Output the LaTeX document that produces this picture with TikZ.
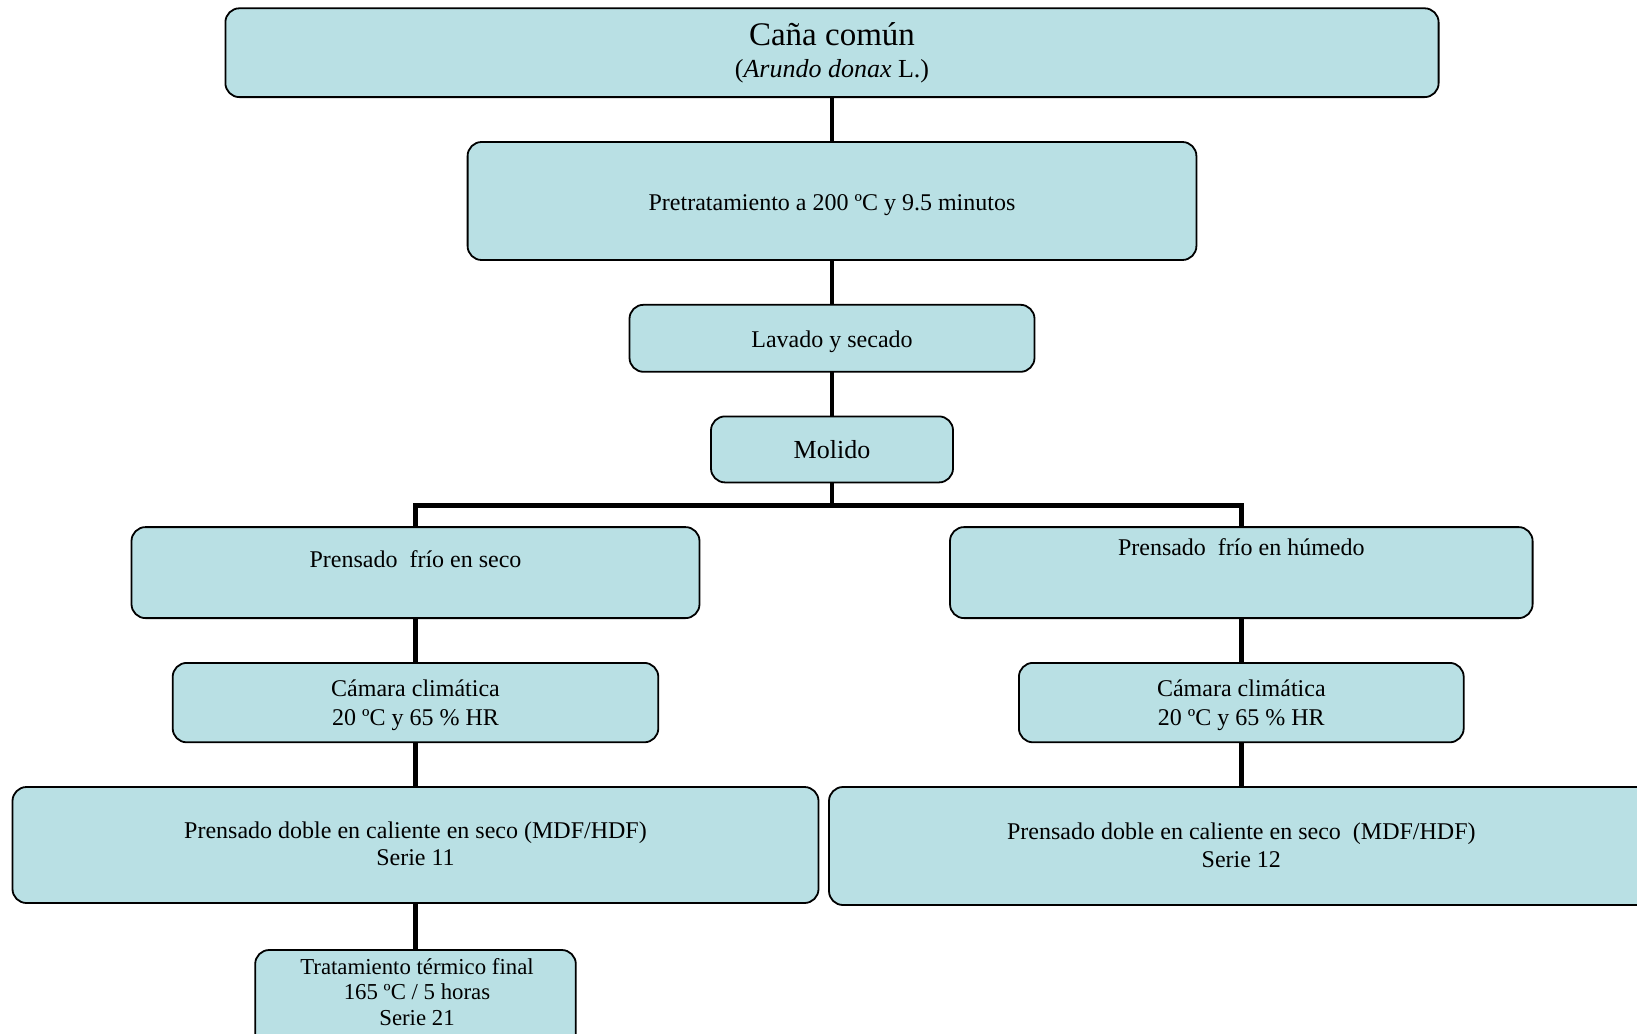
\documentclass[tikz,border=0pt]{standalone}
\usepackage{fontspec}
\setmainfont{Liberation Serif}
\definecolor{boxfill}{RGB}{185,224,228}
\begin{document}
\begin{tikzpicture}[x=0.5pt,y=-0.5pt,
  box/.style={draw=black, line width=0.9pt, fill=boxfill, rounded corners=7pt, inner sep=0pt, outer sep=0pt},
  txt/.style={inner sep=0pt, align=center, font=\fontsize{12}{14}\selectfont},
  conn/.style={draw=black, line width=2.2pt}]
\useasboundingbox (0,0) rectangle (1637,1033);
\clip (0,0) rectangle (1637,1033);
% coordinates for the branching bus
\coordinate (busM) at (832,505.3);
\coordinate (busL) at (415.5,505.3);
\coordinate (busR) at (1241.3,505.3);
% connectors (drawn below boxes)
\draw[conn] (832,97) -- (832,142);
\draw[conn] (832,260) -- (832,305);
\draw[conn] (832,371) -- (832,417);
\draw[conn] (832,482) -- (busM);
\draw[conn, line join=miter] (415.5,528) -- (busL) -- (busR) -- (1241.3,528);
\draw[conn] (415.5,618) -- (415.5,663);
\draw[conn] (415.5,742) -- (415.5,787);
\draw[conn] (415.5,903) -- (415.5,950);
\draw[conn] (1241.3,618) -- (1241.3,663);
\draw[conn] (1241.3,742) -- (1241.3,787);
% boxes
\node[box, minimum width=606.6pt, minimum height=44.4pt] (top) at (832,52.7) {};
\node[box, minimum width=364.4pt, minimum height=59pt] (pre) at (832,201) {};
\node[box, minimum width=202.5pt, minimum height=33.5pt] (lav) at (832,338.3) {};
\node[box, minimum width=121pt, minimum height=33pt] (mol) at (832,449.4) {};
\node[box, minimum width=284pt, minimum height=45.5pt] (pfs) at (415.5,572.6) {};
\node[box, minimum width=291.3pt, minimum height=45.5pt] (pfh) at (1241.3,572.6) {};
\node[box, minimum width=242.8pt, minimum height=39.7pt] (caml) at (415.5,702.6) {};
\node[box, minimum width=222.4pt, minimum height=39.7pt] (camr) at (1241.3,702.6) {};
\node[box, minimum width=403pt, minimum height=58pt] (pdl) at (415.5,845) {};
\node[box, minimum width=412.3pt, minimum height=59pt] (pdr) at (1241.3,846) {};
\node[box, minimum width=160.3pt, minimum height=60pt] (tt) at (415.5,1010) {};
% texts
\node[txt, font=\fontsize{16.5}{19}\selectfont] (topa) at (832,34) {Caña común};
\node[txt, font=\fontsize{13}{15}\selectfont] (topb) at (832,71) {(\textit{Arundo donax} L.)};
\node[txt] (pret) at (832,205.5) {Pretratamiento a 200 ºC y 9.5 minutos};
\node[txt] (lavt) at (832,341.5) {Lavado y secado};
\node[txt, font=\fontsize{13}{15}\selectfont] (molt) at (832,449.5) {Molido};
\node[txt] (pfst) at (415.5,559) {Prensado\ \ frío en seco};
\node[txt] (pfht) at (1241.3,547) {Prensado\ \ frío en húmedo};
\node[txt, font=\fontsize{12}{14.65}\selectfont] (camlt) at (415.5,705.5) {Cámara climática\\20 ºC y 65 \% HR};
\node[txt, font=\fontsize{12}{14.65}\selectfont] (camrt) at (1241.3,705.5) {Cámara climática\\20 ºC y 65 \% HR};
\node[txt, font=\fontsize{12}{13.5}\selectfont] (pdlt) at (415.5,843.5) {Prensado doble en caliente en seco (MDF/HDF)\\Serie 11};
\node[txt, font=\fontsize{12}{14}\selectfont] (pdrt) at (1241.3,845) {Prensado doble en caliente en seco\ \ (MDF/HDF)\\Serie 12};
\node[txt, font=\fontsize{11.4}{12.8}\selectfont] (ttt) at (417,992) {Tratamiento térmico final\\165 ºC / 5 horas\\Serie 21};
\end{tikzpicture}
\end{document}
